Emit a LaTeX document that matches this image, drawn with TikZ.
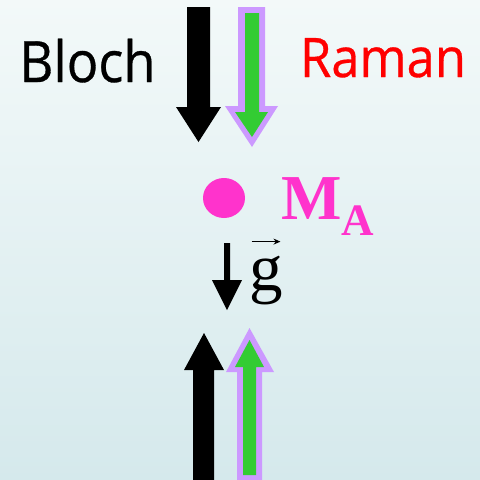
\documentclass[tikz,border=0pt]{standalone}
\usepackage{fontspec}
\usetikzlibrary{arrows.meta}
\setmainfont{Liberation Serif}
\newfontfamily\labelsans[FakeBold=0.6]{Open Sans}
\definecolor{bgtop}{RGB}{243,249,249}
\definecolor{bgbot}{RGB}{213,233,236}
\definecolor{lasergreen}{RGB}{51,204,51}
\definecolor{laserpurple}{RGB}{204,153,255}
\definecolor{atommag}{RGB}{255,51,204}
\tikzset{
  blackarrow/.style={fill=black, draw=none},
  outerarrow/.style={fill=laserpurple, draw=none},
  innerarrow/.style={fill=lasergreen, draw=none},
  lbl/.style={inner sep=0pt, outer sep=0pt},
}
\begin{document}
\begin{tikzpicture}[x=1pt,y=-1pt]
\shade[top color=bgtop, bottom color=bgbot] (0,0) rectangle (480,480);
\useasboundingbox (0,0) rectangle (480,480);
% top black arrow (down)
\fill[blackarrow] (187,7) -- (210,7) -- (210,107) -- (221,107) -- (198.5,142) -- (176,107) -- (187,107) -- cycle;
% top green arrow (down)
\fill[outerarrow] (238,7) -- (265,7) -- (265,106) -- (278,106) -- (252,147) -- (225,106) -- (238,106) -- cycle;
\fill[innerarrow] (245,13) -- (259,13) -- (259,112) -- (268,112) -- (252,137) -- (235,112) -- (245,112) -- cycle;
% bottom black arrow (up)
\fill[blackarrow] (193,481) -- (214,481) -- (214,370) -- (224,370) -- (204,333) -- (184,370) -- (193,370) -- cycle;
% bottom green arrow (up)
\fill[outerarrow] (237,481) -- (262,481) -- (262,372) -- (274,372) -- (249.5,328) -- (226,372) -- (237,372) -- cycle;
\fill[innerarrow] (243,475) -- (256,475) -- (256,367) -- (264,367) -- (249.5,340) -- (235,367) -- (243,367) -- cycle;
% gravity arrow
\fill[blackarrow] (224,243) -- (230,243) -- (230,280) -- (242,280) -- (227,310) -- (212,280) -- (224,280) -- cycle;
% atom
\fill[atommag] (224,198) ellipse [x radius=21, y radius=20];
% labels
\node[lbl, anchor=base] (bloch) at (87.5,82) {\scalebox{0.92}[1]{\labelsans\fontsize{57}{60}\selectfont Bloch}};
\node[lbl, anchor=base, text=red] (raman) at (383,77) {\scalebox{0.93}[1]{\labelsans\fontsize{54.5}{58}\selectfont Raman}};
\node[lbl, anchor=base west, text=atommag] (ma) at (281,219) {\fontsize{64}{66}\selectfont\bfseries M\raisebox{-16pt}{\fontsize{45}{46}\selectfont A}};
\node[lbl, anchor=base west] (g) at (249.5,290) {\fontsize{67}{68}\selectfont g};
\draw[line width=1.4pt, -{Stealth[length=7pt,width=6pt]}] ([xshift=2pt,yshift=14pt]g.north west) -- ([xshift=31pt,yshift=14pt]g.north west);
\end{tikzpicture}
\end{document}
